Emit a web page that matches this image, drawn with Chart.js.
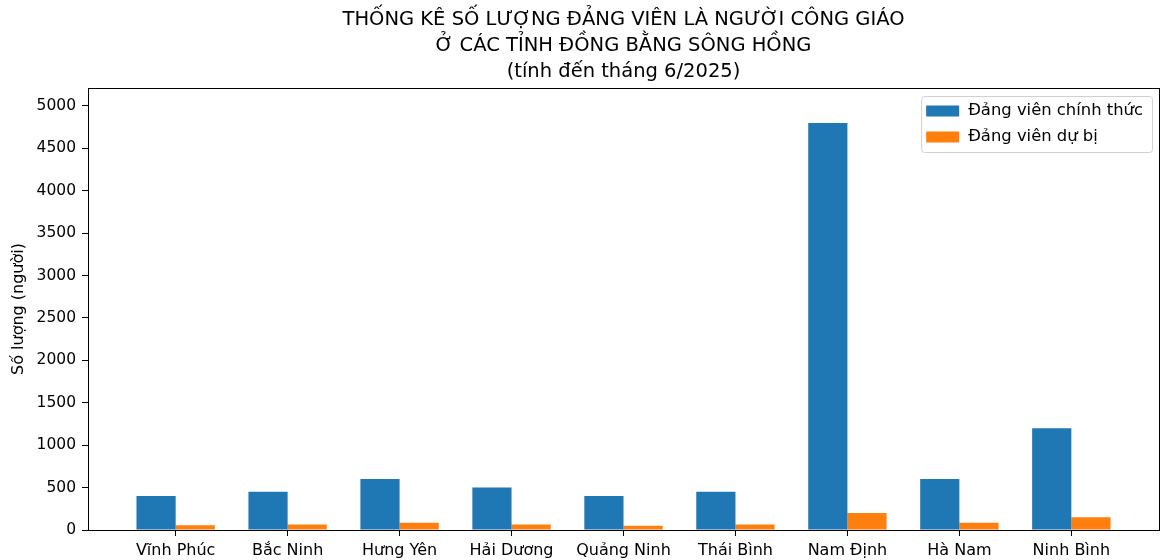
<!DOCTYPE html>
<html>
<head>
<meta charset="utf-8">
<script src="https://cdn.jsdelivr.net/npm/chart.js@4"></script>
<style>
    body { margin: 0; background: #fff; }
    #wrap { width: 1160px; height: 560px; }
</style>
</head>
<body>
<div id="wrap"><canvas id="myChart" width="1160" height="560"></canvas></div>
<script>
// du lieu doc tu hinh
const categories = ['Vĩnh Phúc', 'Bắc Ninh', 'Hưng Yên', 'Hải Dương', 'Quảng Ninh', 'Thái Bình', 'Nam Định', 'Hà Nam', 'Ninh Bình'];
const chinhThuc = [400, 450, 600, 500, 400, 450, 4800, 600, 1200];
const duBi = [55, 65, 85, 65, 50, 65, 200, 85, 150];
const yTicks = [0, 500, 1000, 1500, 2000, 2500, 3000, 3500, 4000, 4500, 5000];
const titleLines = ['THỐNG KÊ SỐ LƯỢNG ĐẢNG VIÊN LÀ NGƯỜI CÔNG GIÁO', 'Ở CÁC TỈNH ĐỒNG BẰNG SÔNG HỒNG', '(tính đến tháng 6/2025)'];

const FONT = "'DejaVu Sans', sans-serif";

function to_points(arr) {
    return arr.map(function (v, i) { return { x: i, y: v }; });
}

const framePlugin = {
    id: 'frame',
    afterDraw: function (chart) {
        const ctx = chart.ctx;
        const a = chart.chartArea;
        ctx.save();
        ctx.strokeStyle = '#000';
        ctx.lineWidth = 1;
        ctx.strokeRect(Math.round(a.left) + 0.5, Math.round(a.top) + 0.5, Math.round(a.right - a.left), Math.round(a.bottom - a.top));

        // tieu de, canh giua theo vung ve
        ctx.fillStyle = '#000';
        ctx.font = '19.5px ' + FONT;
        ctx.textAlign = 'center';
        ctx.textBaseline = 'middle';
        const cx = (a.left + a.right) / 2;
        titleLines.forEach(function (t, i) {
            ctx.fillText(t, cx, 20 + i * 26);
        });

        // chu giai
        ctx.font = '16.4px ' + FONT;
        ctx.textAlign = 'left';
        const ds = chart.data.datasets;
        let tw = 0;
        ds.forEach(function (d) { tw = Math.max(tw, ctx.measureText(d.label).width); });
        const boxW = 47 + tw + 9;
        const boxR = a.right - 7;
        const boxL = boxR - boxW;
        const boxT = a.top + 8;
        const boxH = 56;
        ctx.beginPath();
        ctx.roundRect(boxL + 0.5, boxT + 0.5, boxW, boxH, 3);
        ctx.fillStyle = 'rgba(255,255,255,0.8)';
        ctx.fill();
        ctx.strokeStyle = '#d0d0d0';
        ctx.stroke();
        ds.forEach(function (d, i) {
            const y = boxT + 15 + i * 26;
            ctx.fillStyle = d.backgroundColor;
            ctx.fillRect(boxL + 5, y - 5.5, 33, 11);
            ctx.fillStyle = '#000';
            ctx.fillText(d.label, boxL + 47, y);
        });
        ctx.restore();
    }
};

new Chart('myChart', {
    type: 'bar',
    data: {
        datasets: [{
            label: 'Đảng viên chính thức',
            data: to_points(chinhThuc),
            backgroundColor: '#1f77b4',
            borderWidth: 0
        }, {
            label: 'Đảng viên dự bị',
            data: to_points(duBi),
            backgroundColor: '#ff7f0e',
            borderWidth: 0
        }]
    },
    options: {
        responsive: false,
        animation: false,
        categoryPercentage: 0.7,
        barPercentage: 1.0,
        layout: {
            padding: { top: 88, right: 1, bottom: 0, left: 0 }
        },
        plugins: {
            legend: { display: false },
            title: { display: false },
            tooltip: { enabled: false }
        },
        scales: {
            x: {
                type: 'linear',
                offset: false,
                min: -0.783,
                max: 8.783,
                afterBuildTicks: function (s) {
                    s.ticks = categories.map(function (c, i) { return { value: i }; });
                },
                afterFit: function (s) { s.height = 30; },
                ticks: {
                    autoSkip: false,
                    maxRotation: 0,
                    padding: 5,
                    color: '#000',
                    font: { family: FONT, size: 16 },
                    callback: function (v) { return categories[v]; }
                },
                grid: {
                    offset: false,
                    drawOnChartArea: false,
                    drawTicks: true,
                    tickLength: 6,
                    color: '#000'
                },
                border: { display: true, color: '#000', width: 1 }
            },
            y: {
                min: 0,
                max: 5212,
                afterBuildTicks: function (s) {
                    s.ticks = yTicks.map(function (v) { return { value: v }; });
                },
                afterFit: function (s) { s.width = 88; },
                ticks: {
                    padding: 6,
                    color: '#000',
                    font: { family: FONT, size: 15.5 },
                    callback: function (v) { return String(v); }
                },
                grid: {
                    drawOnChartArea: false,
                    drawTicks: true,
                    tickLength: 6,
                    color: '#000'
                },
                border: { display: true, color: '#000', width: 1 },
                title: {
                    display: true,
                    text: 'Số lượng (người)',
                    color: '#000',
                    font: { family: FONT, size: 16 },
                    padding: { top: 9, bottom: 0 }
                }
            }
        }
    },
    plugins: [framePlugin]
});
</script>
</body>
</html>
